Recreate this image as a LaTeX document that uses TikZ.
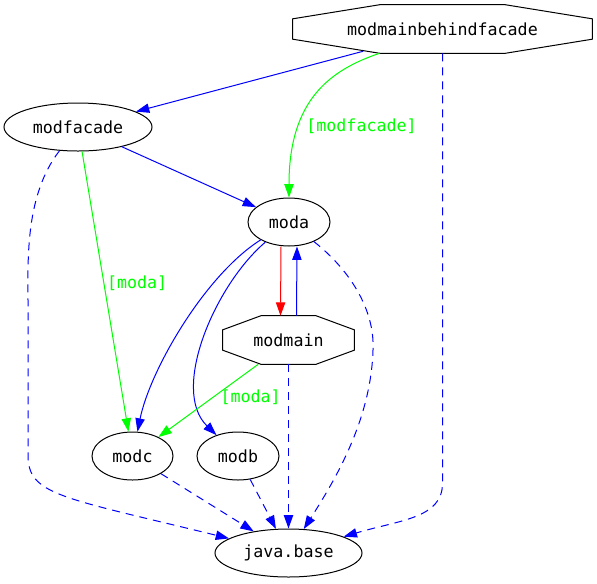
\documentclass[tikz,border=0pt]{standalone}
\usepackage{fontspec}
\setmonofont{DejaVu Sans Mono}
\usetikzlibrary{arrows.meta}
\usetikzlibrary{calc}
\usetikzlibrary{shapes.geometric}

\newcommand{\modfont}{\fontsize{12.5}{15}\selectfont\ttfamily}

\tikzset{
  mod/.style={ellipse,draw,line width=0.75pt,inner sep=0pt,minimum height=36pt,font=\modfont},
  octmod/.style={rectangle,inner sep=0pt,minimum height=36pt,font=\modfont},
  dep/.style={line width=0.75pt,-{Triangle[length=10pt,width=7pt]}},
  req/.style={dep,blue,dash pattern=on 6pt off 4.5pt},
  lbl/.style={font=\modfont,green,inner sep=2pt}
}

\begin{document}
\begin{tikzpicture}[x=0.75pt,y=-0.75pt]
      \useasboundingbox (0,0) rectangle (597,583);

      % Modules
      \node[octmod,minimum width=224.25pt] (mmbf) at (442.5,29) {modmainbehindfacade};
      \node[mod,minimum width=111pt] (modfacade) at (78,127) {modfacade};
      \node[mod,minimum width=61.5pt] (moda) at (289,222) {moda};
      \node[octmod,minimum width=98.25pt] (modmain) at (288.5,340) {modmain};
      \node[mod,minimum width=60.75pt] (modc) at (132.5,456) {modc};
      \node[mod,minimum width=61.5pt] (modb) at (238,456) {modb};
      \node[mod,minimum width=110.25pt] (javabase) at (288.5,553) {java.base};

      % Octagons
      \foreach \n in {mmbf,modmain}
      {
        \draw[line width=0.75pt] ($(\n.north west)!0.29!(\n.north east)$) -- ($(\n.north west)!0.71!(\n.north east)$)
          -- ($(\n.north east)!0.29!(\n.south east)$) -- ($(\n.north east)!0.71!(\n.south east)$)
          -- ($(\n.south west)!0.71!(\n.south east)$) -- ($(\n.south west)!0.29!(\n.south east)$)
          -- ($(\n.north west)!0.71!(\n.south west)$) -- ($(\n.north west)!0.29!(\n.south west)$) -- cycle;
      }

      % Plain requires
      \draw[dep,blue] ($(mmbf.south)!0.53!(mmbf.south west)+(0,-2)$) -- (modfacade);
      \draw[dep,blue] (modfacade) -- (moda);
      \draw[dep,red] ($(moda.south)+(-8,0)$) -- ($(modmain.north)+(-8,0)$);
      \draw[dep,blue] ($(modmain.north)+(8,0)$) -- ($(moda.south)+(8,0)$);
      \draw[dep,blue] (moda) .. controls (205,275) and (150,370) .. (modc);
      \draw[dep,blue] (moda) .. controls (215,285) and (170,390) .. (modb);

      % Qualified exports
      \draw[dep,green] ($(mmbf.south west)!0.29!(mmbf.south east)$) .. controls (330,70) and (289,100) .. (moda)
        node[lbl,pos=0.7,right=3pt] {[modfacade]};
      \draw[dep,green] (modfacade) -- (modc) node[lbl,pos=0.47,right] {[moda]};
      \draw[dep,green] ($(modmain.south west)!0.27!(modmain.south east)$) -- (modc) node[lbl,pos=0.45,right=3pt] {[moda]};

      % java.base
      \draw[req] (mmbf.south) -- ++(0,430) .. controls +(0,35) and (400,520) .. (javabase);
      \draw[req] (modfacade) .. controls (25,195) and (28,260) .. (28,300) -- (28,455) .. controls (28,495) and (60,497) .. (javabase);
      \draw[req] (moda) .. controls (350,270) and (375,310) .. (373,350) .. controls (371,420) and (335,480) .. (javabase);
      \draw[req] (modmain.south) -- (javabase);
      \draw[req] (modc) -- (javabase);
      \draw[req] (modb) -- (javabase);
  \end{tikzpicture}
\end{document}
